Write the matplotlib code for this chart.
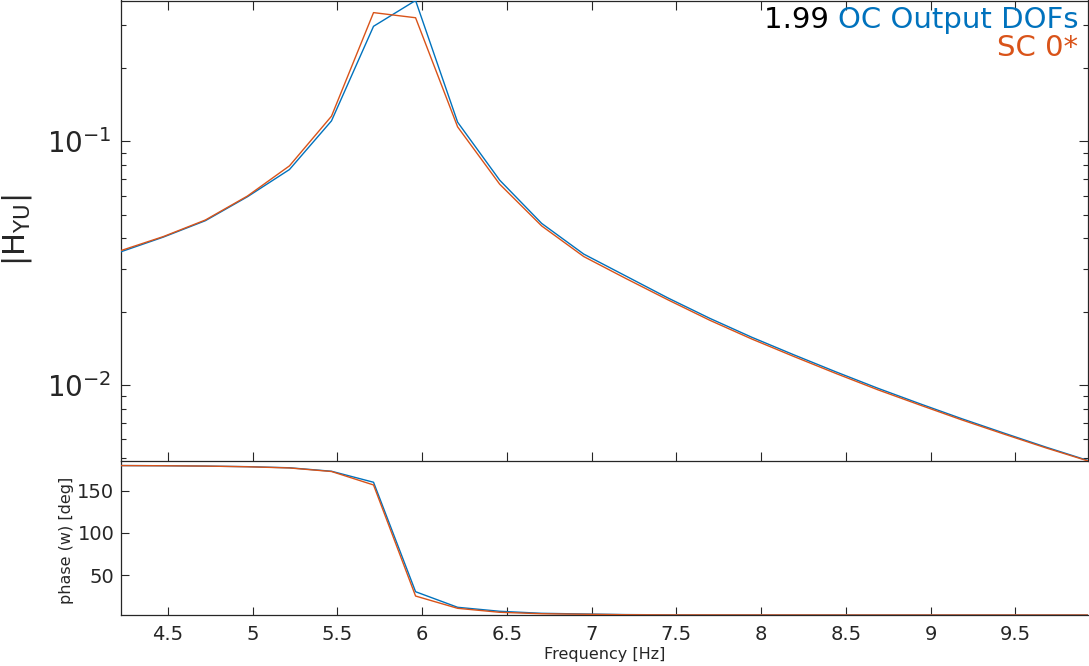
import matplotlib
matplotlib.use("Agg")
import matplotlib.pyplot as plt
from matplotlib.ticker import FixedLocator, LogLocator, NullFormatter, LogFormatterSciNotation

plt.rcParams['font.family'] = ['DejaVu Sans']
plt.rcParams['mathtext.fontset'] = 'dejavusans'

# ---- data ----
freq = [4.226, 4.474, 4.722, 4.970, 5.218, 5.466, 5.714, 5.962, 6.210, 6.458,
        6.706, 6.954, 7.202, 7.450, 7.698, 7.946, 8.194, 8.442, 8.690, 8.938,
        9.186, 9.434, 9.682, 9.930]

mag_oc = [0.0353, 0.0405, 0.0473, 0.0593, 0.0767, 0.1215, 0.297, 0.379, 0.1200, 0.0694,
          0.0461, 0.0345, 0.02805, 0.0228, 0.01879, 0.01571, 0.01331, 0.01133, 0.00970, 0.00838,
          0.00727, 0.00635, 0.00556, 0.00490]

mag_sc = [0.0357, 0.0407, 0.0476, 0.0597, 0.0794, 0.127, 0.338, 0.322, 0.1148, 0.0668,
          0.0450, 0.0337, 0.0274, 0.0224, 0.01845, 0.01545, 0.0131, 0.01116, 0.00956, 0.00828,
          0.00719, 0.00629, 0.00552, 0.00488]

phase_oc = [179.6, 179.4, 179.0, 178.3, 177.0, 172.9, 159.9, 30.6, 12.2, 7.5,
            5.1, 4.3, 3.6, 3.3, 3.2, 3.2, 3.15, 3.15, 3.1, 3.1,
            3.1, 3.1, 3.1, 3.1]

phase_sc = [179.6, 179.4, 179.0, 178.2, 176.8, 172.6, 156.7, 25.5, 11.0, 6.3,
            4.6, 4.0, 3.4, 3.2, 3.2, 3.15, 3.15, 3.1, 3.1, 3.1,
            3.1, 3.1, 3.1, 3.1]

xticks = [4.5, 5, 5.5, 6, 6.5, 7, 7.5, 8, 8.5, 9, 9.5]
xticklabels = ['4.5', '5', '5.5', '6', '6.5', '7', '7.5', '8', '8.5', '9', '9.5']
phase_ticks = [50, 100, 150]

C_OC = '#0072BD'
C_SC = '#D95319'
AX_C = '#262626'

W, H = 1089, 666
fig = plt.figure(figsize=(W / 100, H / 100), dpi=100)

left = 121.3 / W
width = (1088.2 - 121.3) / W
bot_ax = fig.add_axes([left, (H - 615) / H, width, (615 - 461) / H])
top_ax = fig.add_axes([left, (H - 461) / H, width, (461 - 0.5) / H])
bot_ax.patch.set_visible(False)
top_ax.patch.set_visible(False)

# ---- top: magnitude ----
top_ax.plot(freq, mag_oc, color=C_OC, lw=1.0, zorder=3)
top_ax.plot(freq, mag_sc, color=C_SC, lw=1.0, zorder=3)
top_ax.set_yscale('log')
top_ax.set_xlim(freq[0], freq[-1])
top_ax.set_ylim(min(min(mag_oc), min(mag_sc)), max(max(mag_oc), max(mag_sc)))
top_ax.yaxis.set_major_locator(FixedLocator([0.01, 0.1]))
top_ax.yaxis.set_major_formatter(LogFormatterSciNotation())
top_ax.yaxis.set_minor_locator(LogLocator(base=10, subs=[2, 3, 4, 5, 6, 7, 8, 9]))
top_ax.yaxis.set_minor_formatter(NullFormatter())
top_ax.set_xticks(xticks)
top_ax.set_xticklabels([])
top_ax.tick_params(axis='both', which='major', direction='in', length=6.5, width=0.8,
                   colors=AX_C, top=True, right=True)
top_ax.tick_params(axis='y', which='minor', direction='in', length=3.3, width=0.8,
                   colors=AX_C, right=True)
top_ax.tick_params(axis='y', which='major', labelsize=20, pad=7)
for s in top_ax.spines.values():
    s.set_color(AX_C)
    s.set_linewidth(0.9)
top_ax.set_ylabel(r'$|\mathregular{H}_{\mathregular{YU}}|$', fontsize=22, color=AX_C)
top_ax.yaxis.set_label_coords(-0.090, 0.5)

# legend-like colored text
t_oc = top_ax.text(0.9896, 1 - 28 / 460.5, 'OC Output DOFs', color=C_OC, fontsize=21,
                   ha='right', va='baseline', transform=top_ax.transAxes)
top_ax.annotate('1.99 ', xy=(0, 0), xycoords=t_oc, color='black', fontsize=21,
                ha='right', va='bottom')
top_ax.text(0.9896, 1 - 55 / 460.5, 'SC 0*', color=C_SC, fontsize=21,
            ha='right', va='baseline', transform=top_ax.transAxes)

# ---- bottom: phase ----
bot_ax.plot(freq, phase_oc, color=C_OC, lw=1.0, zorder=3)
bot_ax.plot(freq, phase_sc, color=C_SC, lw=1.0, zorder=3)
bot_ax.set_xlim(freq[0], freq[-1])
bot_ax.set_ylim(3.1, 185)
bot_ax.set_xticks(xticks)
bot_ax.set_xticklabels(xticklabels)
bot_ax.set_yticks(phase_ticks)
bot_ax.tick_params(axis='both', which='major', direction='in', length=6.0, width=0.8,
                   colors=AX_C, labelsize=14)
bot_ax.tick_params(axis='x', pad=7)
bot_ax.tick_params(axis='y', pad=5)
bot_ax.spines['top'].set_visible(False)
bot_ax.spines['right'].set_visible(False)
for s in ['left', 'bottom']:
    bot_ax.spines[s].set_color(AX_C)
    bot_ax.spines[s].set_linewidth(0.9)
bot_ax.set_ylabel('phase (w) [deg]', fontsize=11.5, color=AX_C)
bot_ax.yaxis.set_label_coords(-0.049, 0.487)
bot_ax.set_xlabel('Frequency [Hz]', fontsize=11.5, color=AX_C)
bot_ax.xaxis.set_label_coords(0.5, -0.205)

fig.savefig('out.png', dpi=100, facecolor='white')
